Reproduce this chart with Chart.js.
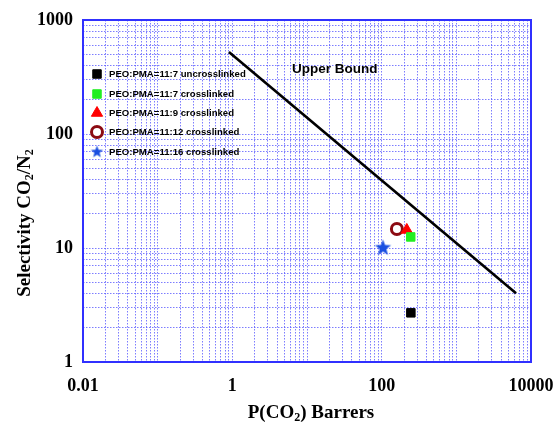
<!DOCTYPE html>
<html>
<head>
<meta charset="utf-8">
<script src="https://cdn.jsdelivr.net/npm/chart.js@4/dist/chart.umd.min.js"></script>
<style>
  html, body { margin: 0; padding: 0; background: #fff; }
  #wrap { width: 556px; height: 422px; }
</style>
</head>
<body>
<div id="wrap"><canvas id="robeson" width="556" height="422"></canvas></div>
<script>
  // ---- data ----
  const seriesNames  = ['PEO:PMA=11:7 uncrosslinked', 'PEO:PMA=11:7 crosslinked', 'PEO:PMA=11:9 crosslinked',
                        'PEO:PMA=11:12 crosslinked', 'PEO:PMA=11:16 crosslinked'];
  const permeability = [246, 245, 217, 160, 104];      // P(CO2), Barrer
  const selectivity  = [2.7, 12.5, 14.4, 14.7, 10.0];  // CO2/N2
  const boundP   = [0.9, 6300];
  const boundSel = [525, 4.0];
  const xLabelTicks = [0.01, 1, 100, 10000];
  const yLabelTicks = [1, 10, 100, 1000];

  // 5-point filled star for the last series
  function makeStar(r, color) {
    const c = document.createElement('canvas');
    c.width = c.height = r * 2 + 2;
    const g = c.getContext('2d');
    const cx = r + 1, cy = r + 1;
    g.beginPath();
    for (let i = 0; i < 10; i++) {
      const rad = i % 2 ? r * 0.42 : r;
      const a = -Math.PI / 2 + i * Math.PI / 5;
      g.lineTo(cx + rad * Math.cos(a), cy + rad * Math.sin(a));
    }
    g.closePath();
    g.fillStyle = color;
    g.fill();
    return c;
  }
  const star = makeStar(8.5, '#1a4fe0');
  const smallStar = makeStar(6.5, '#1a4fe0');

  const styles = [
    { pointStyle: 'rect',     radius: 6,   backgroundColor: '#000000', borderColor: '#000000', borderWidth: 1 },
    { pointStyle: 'rect',     radius: 6,   backgroundColor: '#22ee22', borderColor: '#22ee22', borderWidth: 1 },
    { pointStyle: 'triangle', radius: 6.5, backgroundColor: '#ff0000', borderColor: '#ff0000', borderWidth: 1 },
    { pointStyle: 'circle',   radius: 5.5, backgroundColor: '#ffffff', borderColor: '#8b0a12', borderWidth: 3 },
    { pointStyle: star,       radius: 9,   backgroundColor: '#1a4fe0', borderColor: '#1a4fe0', borderWidth: 0 }
  ];

  const datasets = seriesNames.map((name, i) => ({
    label: name,
    data: [{ x: permeability[i], y: selectivity[i] }],
    pointStyle: styles[i].pointStyle,
    pointRadius: styles[i].radius,
    pointBackgroundColor: styles[i].backgroundColor,
    pointBorderColor: styles[i].borderColor,
    pointBorderWidth: styles[i].borderWidth,
    order: 1
  }));
  datasets.push({
    label: 'Upper Bound',
    data: boundP.map((p, i) => ({ x: p, y: boundSel[i] })),
    showLine: true,
    borderColor: '#000',
    borderWidth: 2.6,
    pointRadius: 0,
    order: 2
  });

  function decadeTicks(lo, hi) {
    const out = [];
    for (let e = Math.log10(lo); e < Math.log10(hi); e++) {
      for (let m = 1; m <= 9; m++) out.push({ value: +(m * Math.pow(10, e)).toPrecision(3) });
    }
    out.push({ value: hi });
    return out;
  }

  // text with real subscripts: parts = [[text, isSub], ...], centred on x
  function drawRich(ctx, parts, x, y, size) {
    const big = `bold ${size}px "Liberation Serif"`, small = `bold ${Math.round(size * 0.62)}px "Liberation Serif"`;
    let w = 0;
    parts.forEach(([t, sub]) => { ctx.font = sub ? small : big; w += ctx.measureText(t).width; });
    let cx = x - w / 2;
    ctx.textAlign = 'left';
    ctx.textBaseline = 'alphabetic';
    parts.forEach(([t, sub]) => {
      ctx.font = sub ? small : big;
      ctx.fillText(t, cx, y + (sub ? size * 0.18 : 0));
      cx += ctx.measureText(t).width;
    });
  }

  const gridBlue = 'rgba(70,70,255,0.7)';
  const tickFont = { family: 'Liberation Serif', size: 18, weight: 'bold' };

  // legend, frame, axis titles and the "Upper Bound" note
  const extras = {
    id: 'extras',
    afterDatasetsDraw(chart) {
      const { ctx, chartArea: a } = chart;
      ctx.save();
      ctx.strokeStyle = '#3030ff';
      ctx.lineWidth = 2;
      ctx.strokeRect(a.left, a.top, a.right - a.left, a.bottom - a.top);

      ctx.fillStyle = '#000';
      ctx.font = 'bold 13.5px "Liberation Sans"';
      ctx.textBaseline = 'middle';
      ctx.fillText('Upper Bound', 292, 69);

      ctx.font = 'bold 9.6px "Liberation Sans"';
      const rows = [74, 94, 113, 132, 152];
      seriesNames.forEach((name, i) => {
        const opts = chart.getDatasetMeta(i).data[0].options;
        ctx.save();
        ctx.fillStyle = opts.backgroundColor;
        ctx.strokeStyle = opts.borderColor;
        ctx.lineWidth = opts.borderWidth;
        Chart.helpers.drawPoint(ctx, {
          pointStyle: i === 4 ? smallStar : opts.pointStyle,
          radius: i === 4 ? 7 : opts.radius, rotation: 0, borderWidth: opts.borderWidth
        }, 97, rows[i]);
        ctx.restore();
        ctx.fillText(name, 109, rows[i] + 0.5);
      });

      drawRich(ctx, [['P(CO', 0], ['2', 1], [') Barrers', 0]], 311, 418, 19);

      ctx.translate(30, 223);
      ctx.rotate(-Math.PI / 2);
      drawRich(ctx, [['Selectivity CO', 0], ['2', 1], ['/N', 0], ['2', 1]], 0, 0, 19);
      ctx.restore();
    }
  };

  new Chart(document.getElementById('robeson'), {
    type: 'scatter',
    data: { datasets },
    plugins: [extras],
    options: {
      responsive: false,
      animation: false,
      layout: { padding: { left: 0, right: 0, top: 20, bottom: 0 } },
      plugins: { legend: { display: false }, tooltip: { enabled: false } },
      scales: {
        x: {
          type: 'logarithmic',
          min: 0.01, max: 10000,
          afterBuildTicks: s => { s.ticks = decadeTicks(0.01, 10000); },
          afterFit: s => { s.height = 60; s.paddingLeft = 0; s.paddingRight = 25; },
          ticks: {
            autoSkip: false, maxRotation: 0, padding: 14, color: '#000', font: tickFont,
            callback: v => xLabelTicks.includes(v) ? String(v) : ''
          },
          grid: { color: gridBlue, lineWidth: 1, drawTicks: false },
          border: { display: false, dash: [1.5, 1.5] }
        },
        y: {
          type: 'logarithmic',
          min: 1, max: 1000,
          afterBuildTicks: s => { s.ticks = decadeTicks(1, 1000); },
          afterFit: s => { s.width = 83; s.paddingTop = 0; s.paddingBottom = 0; },
          ticks: {
            autoSkip: false, padding: 10, color: '#000', font: tickFont,
            callback: v => yLabelTicks.includes(v) ? String(v) : ''
          },
          grid: { color: gridBlue, lineWidth: 1, drawTicks: false },
          border: { display: false, dash: [1.5, 1.5] }
        }
      }
    }
  });
</script>
</body>
</html>
